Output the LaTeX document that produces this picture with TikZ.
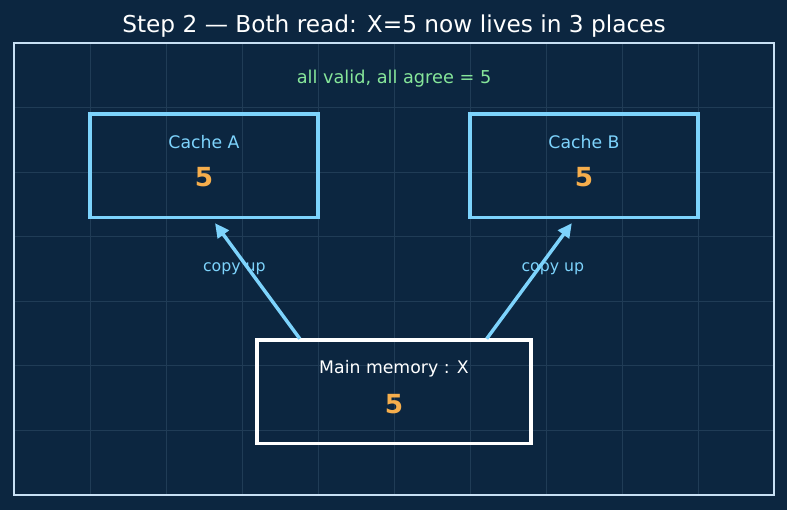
\documentclass[tikz,border=0pt]{standalone}
\usepackage{fontspec}
\setmainfont{DejaVu Sans}
\usetikzlibrary{arrows.meta,positioning,calc}
\definecolor{bgnavy}{RGB}{12,38,64}
\definecolor{gridline}{RGB}{32,60,86}
\definecolor{framecol}{RGB}{200,224,244}
\definecolor{cacheblue}{RGB}{125,211,252}
\definecolor{valorange}{RGB}{246,174,76}
\definecolor{okgreen}{RGB}{134,230,154}
\tikzset{
  cachebox/.style={draw=cacheblue, line width=2.5pt, inner sep=0pt,
    minimum width=5.79cm, minimum height=2.62cm},
  membox/.style={draw=white, line width=2.5pt, inner sep=0pt,
    minimum width=6.95cm, minimum height=2.62cm},
  boxlabel/.style={font=\fontsize{12.5}{15}\selectfont},
  valuelabel/.style={text=valorange, font=\fontsize{19}{23}\selectfont\bfseries},
  flowlabel/.style={text=cacheblue, font=\fontsize{11.4}{13}\selectfont},
  flow/.style={-{Triangle[length=3.6mm,width=3.4mm]}, line width=2.5pt, draw=cacheblue}
}
\begin{document}
\begin{tikzpicture}[x=1.9304cm, y=1.64cm]
% canvas and panel
\useasboundingbox[fill=bgnavy] (-0.1842,-0.2323) rectangle (10.1711,7.6661);
\foreach \i in {1,...,9}
  \draw[gridline, line width=0.5pt] (\i,0) -- (\i,7);
\foreach \j in {1,...,6}
  \draw[gridline, line width=0.5pt] (0,\j) -- (10,\j);
\draw[framecol, line width=1.5pt] (0,0) rectangle (10,7);

\node[text=white, font=\fontsize{16.8}{20}\selectfont] (title) at (5,7.26)
  {Step 2 — Both read: X=5 now lives in 3 places};
\node[text=okgreen, font=\fontsize{12.8}{15}\selectfont] (agree) at (5,6.45)
  {all valid, all agree = 5};

% the two caches
\node[cachebox] (cacheA) at (2.5,5.1) {};
\node[boxlabel, text=cacheblue] (nameA) at (2.5,5.46) {Cache A};
\node[valuelabel] (valA) at (2.5,4.92) {5};
\node[cachebox] (cacheB) at (7.5,5.1) {};
\node[boxlabel, text=cacheblue] (nameB) at (7.5,5.46) {Cache B};
\node[valuelabel] (valB) at (7.5,4.92) {5};

% main memory
\node[membox] (mem) at (5,1.6) {};
\node[boxlabel, text=white] (nameM) at (5,1.95) {Main memory : X};
\node[valuelabel] (valM) at (5,1.4) {5};

% reads copy the value up
\coordinate (upA) at (3.76,2.42);
\coordinate (upB) at (6.22,2.42);
\coordinate (tipA) at (2.645,4.21);
\coordinate (tipB) at (7.34,4.21);
\draw[flow] (upA) -- (tipA);
\draw[flow] (upB) -- (tipB);
\node[flowlabel] (copyA) at (2.9,3.5) {copy up};
\node[flowlabel] (copyB) at (7.09,3.5) {copy up};
\end{tikzpicture}
\end{document}
